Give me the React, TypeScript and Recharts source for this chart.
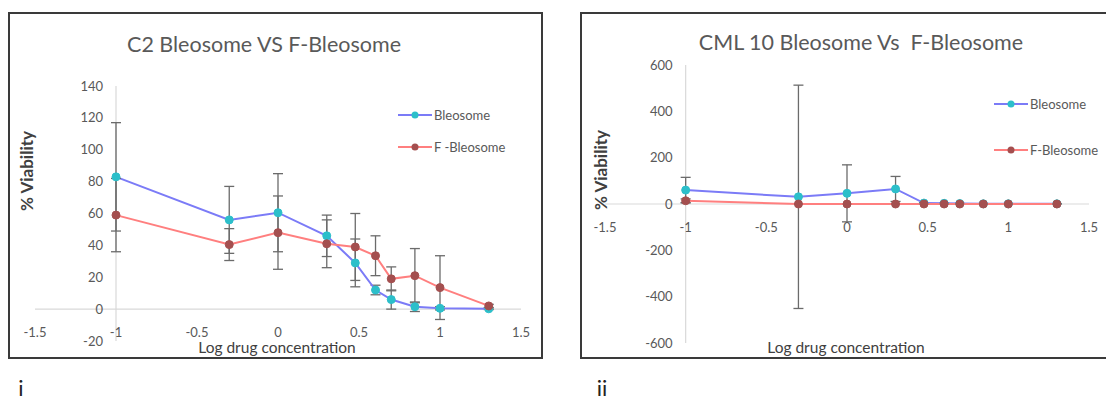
import { LineChart, Line, XAxis, YAxis, ErrorBar, ReferenceLine } from "recharts";

// log10 of the drug concentrations tested
const logDose = [-1, -0.301, 0, 0.301, 0.477, 0.602, 0.699, 0.845, 1, 1.301];

// panel i: C2
const c2Bleosome = [83, 56, 60.5, 46, 29, 12, 6, 1.5, 0.5, 0.2];
const c2BleosomeSd = [34, 21, 24.5, 13, 15, 3, 6, 3, 1, 0.5];
const c2FBleosome = [59, 40.5, 48, 41, 39, 33.5, 19, 21, 13.5, 2];
const c2FBleosomeSd = [23, 10, 23, 15, 21, 12.5, 7.5, 17, 20, 1];

// panel ii: CML 10
const cmlBleosome = [60, 31, 46, 65, 4, 3, 2, 1, 1, 1];
const cmlBleosomeSd = [55, 482, 123, 54, 2, 2, 1, 1, 1, 1];
const cmlFBleosome = [14, 0, 0, 0, 0, 0, 0, 0, 0, 0];
const cmlFBleosomeSd = [8, 0, 0, 0, 0, 0, 0, 0, 0, 0];

const xTicks = [-1.5, -1, -0.5, 0, 0.5, 1, 1.5];
const c2Ticks = [-20, 0, 20, 40, 60, 80, 100, 120, 140];
const cmlTicks = [-600, -400, -200, 0, 200, 400, 600];

const FONT = "Lato, 'Open Sans', sans-serif";
const GRAY = "#595959";
const BLUE = { line: "#7b7bf7", dot: "#2cbfca" };
const RED = { line: "#ff7f7f", dot: "#a44f4f" };

const rowsFor = (b: number[], bSd: number[], f: number[], fSd: number[]) =>
  logDose.map((x, i) => ({ x, b: b[i], bSd: bSd[i], f: f[i], fSd: fSd[i] }));

const c2Rows = rowsFor(c2Bleosome, c2BleosomeSd, c2FBleosome, c2FBleosomeSd);
const cmlRows = rowsFor(cmlBleosome, cmlBleosomeSd, cmlFBleosome, cmlFBleosomeSd);

type PanelProps = {
  left: number;
  width: number;
  plot: { top: number; right: number; bottom: number; left: number };
  yTicks: number[];
  rows: any[];
};

function Panel({ left, width, plot, yTicks, rows }: PanelProps) {
  const height = 401;
  const yMin = yTicks[0];
  const yMax = yTicks[yTicks.length - 1];
  const plotW = width - plot.left - plot.right;
  const plotH = height - plot.top - plot.bottom;
  // excel draws the axes where they cross: y=0 and x=-1
  const zeroY = plot.top + (plotH * yMax) / (yMax - yMin);
  const axisX = plot.left + (plotW * (-1 - -1.5)) / 3;
  // axes take 1px each, so the margins are one less
  const margin = { top: plot.top, right: plot.right, bottom: plot.bottom - 1, left: plot.left - 1 };

  const XTick = (p: any) => (
    <text x={p.x} y={zeroY + 27.5} textAnchor="middle" fill={GRAY} fontSize={13} fontFamily={FONT}>
      {p.payload.value}
    </text>
  );
  const YTick = (p: any) => (
    <text x={axisX - 13} y={p.y + 4.5} textAnchor="end" fill={GRAY} fontSize={13} fontFamily={FONT}>
      {p.payload.value}
    </text>
  );

  return (
    <div style={{ position: "absolute", left, top: 0 }}>
      <LineChart width={width} height={height} data={rows} margin={margin}>
        <XAxis
          type="number"
          dataKey="x"
          domain={[-1.5, 1.5]}
          ticks={xTicks}
          interval={0}
          height={1}
          axisLine={false}
          tickLine={false}
          tick={XTick}
        />
        <YAxis
          type="number"
          domain={[yMin, yMax]}
          ticks={yTicks}
          interval={0}
          width={1}
          allowDataOverflow
          axisLine={false}
          tickLine={false}
          tick={YTick}
        />
        <ReferenceLine y={0} stroke="#d9d9d9" strokeWidth={1.2} />
        <ReferenceLine x={-1} stroke="#d9d9d9" strokeWidth={1.2} />
        <Line
          type="linear"
          dataKey="b"
          stroke={BLUE.line}
          strokeWidth={2}
          dot={{ r: 4, fill: BLUE.dot, stroke: BLUE.dot, strokeWidth: 1 }}
          isAnimationActive={false}
        >
          <ErrorBar dataKey="bSd" direction="y" width={5} stroke="#6b6b6b" strokeWidth={1.3} isAnimationActive={false} />
        </Line>
        <Line
          type="linear"
          dataKey="f"
          stroke={RED.line}
          strokeWidth={2}
          dot={{ r: 4, fill: RED.dot, stroke: RED.dot, strokeWidth: 1 }}
          isAnimationActive={false}
        >
          <ErrorBar dataKey="fSd" direction="y" width={5} stroke="#6b6b6b" strokeWidth={1.3} isAnimationActive={false} />
        </Line>
      </LineChart>
    </div>
  );
}

function Text({ cx, cy, size, children, bold, color, rotate }: any) {
  return (
    <div
      style={{
        position: "absolute",
        left: cx,
        top: cy,
        transform: `translate(-50%, -50%)${rotate ? " rotate(-90deg)" : ""}`,
        fontFamily: FONT,
        fontSize: size,
        fontWeight: bold ? 700 : 400,
        color: color || GRAY,
        whiteSpace: "pre",
        lineHeight: 1,
      }}
    >
      {children}
    </div>
  );
}

function LegendItem({ x, y, label, colors }: any) {
  return (
    <div style={{ position: "absolute", left: x, top: y - 8, height: 16, display: "flex", alignItems: "center" }}>
      <svg width={36} height={16}>
        <line x1={0} y1={8} x2={34} y2={8} stroke={colors.line} strokeWidth={2} />
        <circle cx={17} cy={8} r={3.5} fill={colors.dot} />
      </svg>
      <span style={{ fontFamily: FONT, fontSize: 13, color: GRAY, whiteSpace: "pre" }}>{label}</span>
    </div>
  );
}

export default function App() {
  return (
    <div style={{ position: "absolute", left: 0, top: 0, width: 1106, height: 401, overflow: "hidden", background: "#fff" }}>
      <div style={{ position: "absolute", left: 8, top: 12, width: 531, height: 343, border: "2px solid #3a3a3a" }} />
      <div style={{ position: "absolute", left: 580, top: 12, width: 560, height: 343, border: "2px solid #3a3a3a" }} />

      <Panel left={0} width={560} plot={{ top: 86, right: 39, bottom: 60, left: 35 }} yTicks={c2Ticks} rows={c2Rows} />
      <Panel left={560} width={546} plot={{ top: 65, right: 17, bottom: 58, left: 45 }} yTicks={cmlTicks} rows={cmlRows} />

      <Text cx={264} cy={45} size={21.5}>C2 Bleosome VS F-Bleosome</Text>
      <Text cx={861} cy={43} size={21.5}>CML 10 Bleosome Vs  F-Bleosome</Text>

      <Text cx={26} cy={171} size={17} bold color="#404040" rotate>% Viability</Text>
      <Text cx={600} cy={170} size={17} bold color="#404040" rotate>% Viability</Text>

      <Text cx={277} cy={348} size={15.5} color="#404040">Log drug concentration</Text>
      <Text cx={846} cy={348} size={15.5} color="#404040">Log drug concentration</Text>

      <LegendItem x={398} y={115} label="Bleosome" colors={BLUE} />
      <LegendItem x={398} y={147} label="F -Bleosome" colors={RED} />
      <LegendItem x={994} y={104} label="Bleosome" colors={BLUE} />
      <LegendItem x={994} y={150} label="F-Bleosome" colors={RED} />

      <Text cx={21} cy={388} size={22} color="#222">i</Text>
      <Text cx={602} cy={388} size={22} color="#222">ii</Text>
    </div>
  );
}
